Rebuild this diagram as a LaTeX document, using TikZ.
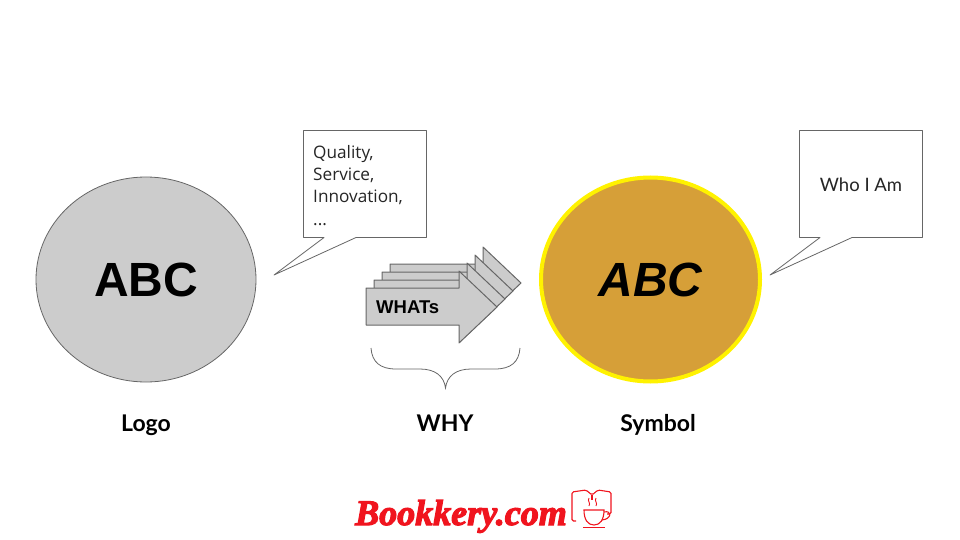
\documentclass[tikz,border=0pt]{standalone}
\usepackage{fontspec}
\setmainfont{Liberation Sans}
\newfontfamily\opensans{Open Sans}
\newfontfamily\lato{Lato}
\newfontfamily\brandfont{Liberation Serif}
\usetikzlibrary{shapes, arrows.meta, positioning}
\definecolor{discgray}{HTML}{CCCCCC}
\definecolor{discgold}{HTML}{D69F38}
\definecolor{linegray}{HTML}{666666}
\definecolor{brandred}{HTML}{F0141E}
\tikzstyle{disc}=[ellipse,draw=linegray,fill=discgray,line width=.8pt,minimum width=220pt,minimum height=205pt,inner sep=0pt]
\tikzstyle{balloon}=[draw=linegray,fill=white,line width=.8pt,line join=round]
\tikzstyle{chevron}=[draw=linegray,fill=discgray,line width=1pt,line join=round]
\tikzstyle{caption}=[anchor=base,font=\lato\bfseries\fontsize{23}{25}\selectfont,text=black]
\newcommand{\arrowpath}{(366,288) -- (459,288) -- (459,271) -- (497,307) -- (459,343) -- (459,325) -- (366,325) -- cycle}
\begin{document}
\begin{tikzpicture}[x=1pt,y=-1pt,>=latex]
  \useasboundingbox (0,0) rectangle (960,540);
  % discs
  \node[disc] (logo) at (146,279.5) {\fontsize{48}{50}\selectfont\bfseries ABC};
  \node[disc,draw=yellow,fill=discgold,line width=4pt,minimum width=219pt,minimum height=204pt] (symbol) at (650.5,279.5) {\fontsize{48}{50}\selectfont\bfseries\itshape ABC};
  % speech balloons
  \draw[balloon] (303.5,130.5) -- (426.5,130.5) -- (426.5,237.5) -- (356,237.5) -- (274,275) -- (324,237.5) -- (303.5,237.5) -- cycle;
  \node[anchor=north west,inner sep=0pt,align=left,font=\opensans\fontsize{17.2}{22.3}\selectfont,text=black!85] (whats list) at (313,145) {Quality,\\Service,\\Innovation,\\...};
  \draw[balloon] (799.5,130.5) -- (922.5,130.5) -- (922.5,237.5) -- (852,237.5) -- (770,275) -- (820,237.5) -- (799.5,237.5) -- cycle;
  \node[font=\lato\fontsize{18.5}{20}\selectfont,text=black!85] (who) at (861,185) {Who I Am};
  % stacked arrows
  \foreach \i in {3,2,1,0}
    \draw[chevron,shift={(8*\i,-8*\i)}] \arrowpath;
  \node[anchor=west,inner sep=0pt,font=\fontsize{18.5}{20}\selectfont\bfseries,text=black] (whats) at (376,307) {WHATs};
  % brace
  \coordinate (brace l) at (371,348);
  \coordinate (brace r) at (520,348);
  \coordinate (brace m) at (445.5,388);
  \draw[linegray,line width=.8pt] (brace l) .. controls (372,362) and (380,369) .. (396,369)
    -- (420,369) .. controls (435,369) and (444,376) .. (brace m)
    .. controls (447,376) and (456,369) .. (471,369)
    -- (495,369) .. controls (511,369) and (519,362) .. (brace r);
  % captions
  \node[caption] (logo cap) at (146,431) {Logo};
  \node[caption] (why cap) at (445,431) {WHY};
  \node[caption] (symbol cap) at (658,431) {Symbol};
  % brand
  \node[anchor=base west,inner sep=0pt,text=brandred,font=\brandfont\fontsize{36}{40}\selectfont\bfseries\itshape] (brand) at (355,525) {\special{pdf:literal 2 Tr 1.1 w 0.94 0.08 0.12 RG}Bookkery.com\special{pdf:literal 0 Tr}};
  \draw[brandred,line width=1.1pt,rounded corners=1.5pt] (576,521) -- (572,521) -- (572,492) -- (586,490) -- (592,495) -- (598,490) -- (611,492) -- (611,514) -- (607,514);
  \draw[brandred,line width=1.1pt] (592,495) -- (592,500);
  \draw[brandred,line width=1.1pt] (584,510) -- (604,510) .. controls (604,520) and (600,525) .. (594,525) .. controls (588,525) and (584,520) .. (584,510) -- cycle;
  \draw[brandred,line width=1.1pt] (604,512) .. controls (612,510) and (612,519) .. (602,520);
  \draw[brandred,line width=1.1pt] (583,527.5) -- (605,527.5);
  \draw[brandred,line width=.9pt] (589,498) .. controls (587,501) and (591,503) .. (589,506);
  \draw[brandred,line width=.9pt] (596,498) .. controls (594,501) and (598,503) .. (596,506);
\end{tikzpicture}
\end{document}
